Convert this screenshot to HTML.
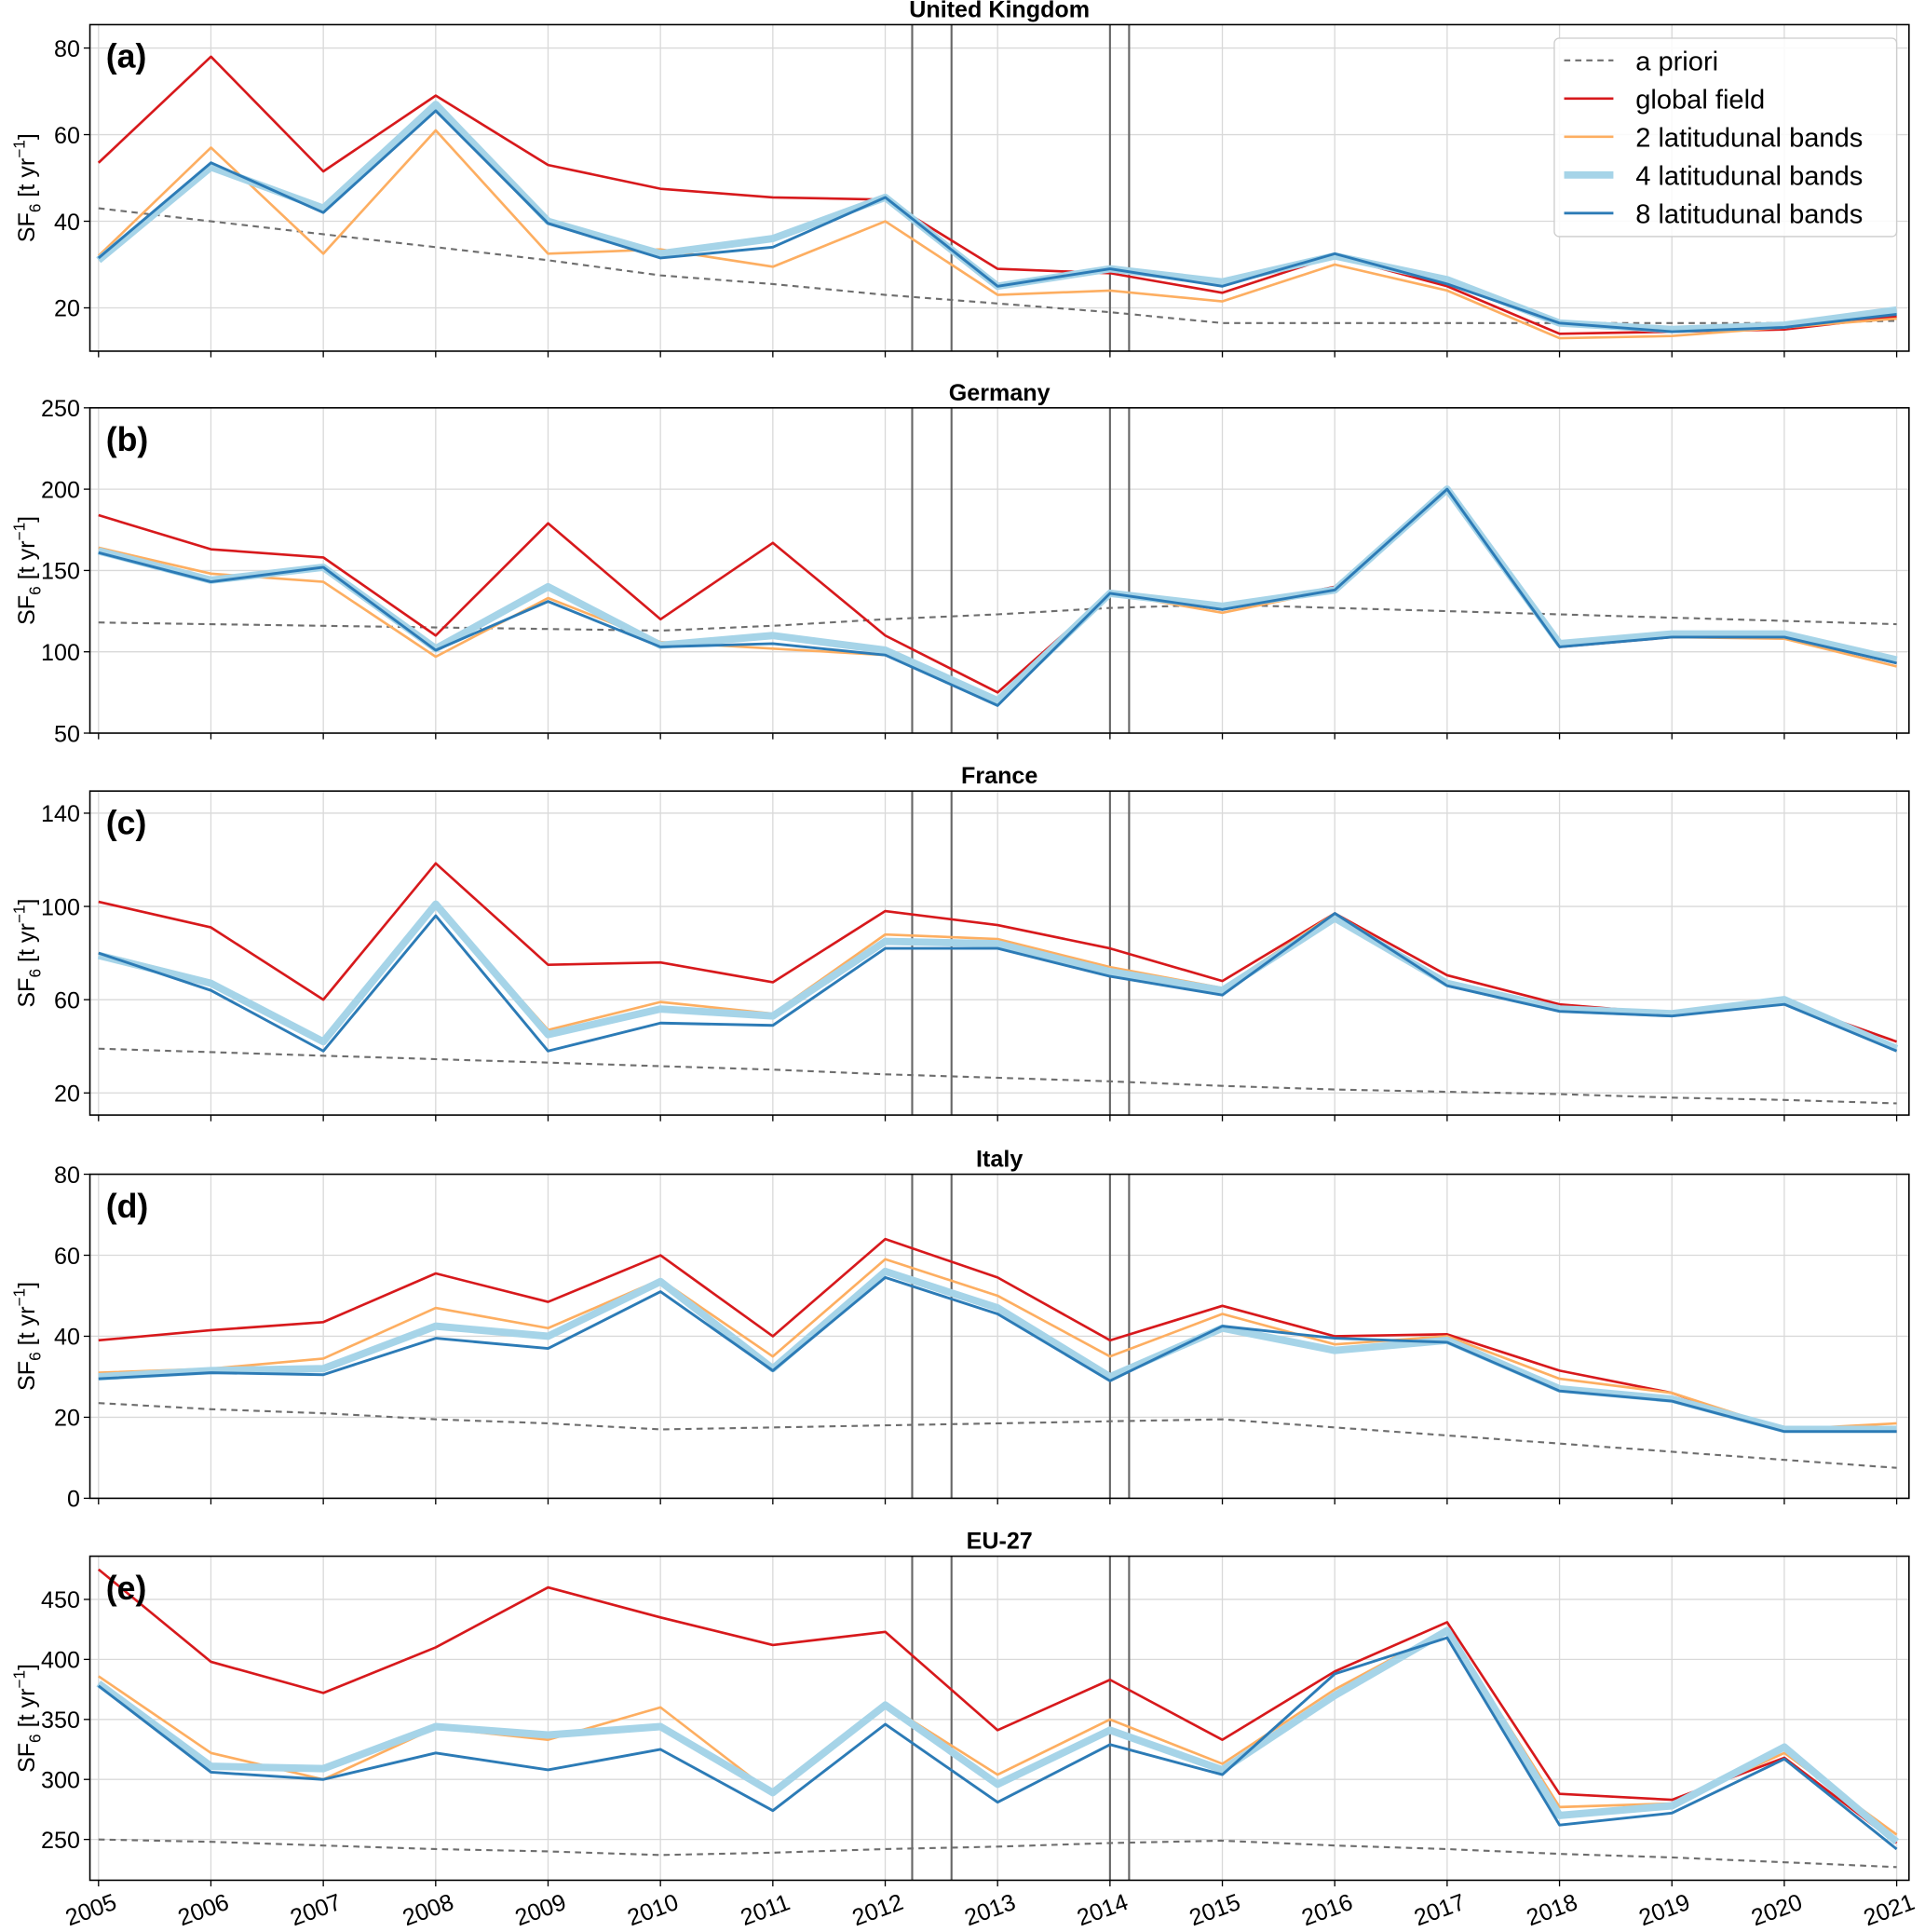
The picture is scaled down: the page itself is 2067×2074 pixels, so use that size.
<!DOCTYPE html>
<html><head><meta charset="utf-8"><style>
html,body{margin:0;padding:0;background:#fff;}
svg{display:block;font-family:"Liberation Sans","DejaVu Sans",sans-serif;}
</style></head><body>
<svg id="chart" width="2067" height="2074" viewBox="0 0 1563 1568" preserveAspectRatio="none" xmlns="http://www.w3.org/2000/svg"></svg>
<script>
const years = [2005,2006,2007,2008,2009,2010,2011,2012,2013,2014,2015,2016,2017,2018,2019,2020,2021];
const seriesNames = ["a priori","global field","2 latitudunal bands","4 latitudunal bands","8 latitudunal bands"];
const ukPrior = [43,40,37,34,31,27.5,25.5,23,21,19,16.5,16.5,16.5,16.5,16.5,16.5,17];
const ukGlobal = [53.5,78,51.5,69,53,47.5,45.5,45,29,28,23.5,32,25,14,14.5,15,18];
const uk2 = [32,57,32.5,61,32.5,33.5,29.5,40,23,24,21.5,30,24,13,13.5,15.5,17.5];
const uk4 = [31,52.5,43,67,40,32.5,36,45.5,25,29,26,32,26.5,16.5,15,16,19.5];
const uk8 = [31.5,53.5,42,65.5,39.5,31.5,34,45.5,25,29,25,32.5,25.5,16.5,14.5,15.5,18.5];
const dePrior = [118,117,116,115,114,113,116,120,123,127,129,127,125,123,121,119,117];
const deGlobal = [184,163,158,110,179,120,167,110,75,136,126,140,200,103,109,109,93];
const de2 = [164,148,143,97,133,106,102,98,70,136,124,138,200,104,109,108,91];
const de4 = [162,144,152,102,140,104,110,101,70,136,128,138,200,105,111,111,95];
const de8 = [161,143,152,101,131,103,105,98,67,136,126,138,200,103,109,109,93];
const frPrior = [39,37.5,36,34.5,33,31.5,30,28,26.5,25,23,21.5,20.5,19.5,18,17,15.5];
const frGlobal = [102,91,60,118.5,75,76,67.5,98,92,82,68,97,70.5,58,54,59,42];
const fr2 = [80,68,42,101,47,59,54,88,86,74,65,97,67,56,54,60,40];
const fr4 = [79,67,42,101,45,56,53,85,84,72,64,95,67,56,54,60,39];
const fr8 = [80,64,38,96,38,50,49,82,82,70,62,97,66,55,53,58,38];
const itPrior = [23.5,22,21,19.5,18.5,17,17.5,18,18.5,19,19.5,17.5,15.5,13.5,11.5,9.5,7.5];
const itGlobal = [39,41.5,43.5,55.5,48.5,60,40,64,54.5,39,47.5,40,40.5,31.5,26,16.5,16.5];
const it2 = [31,32,34.5,47,42,54,35,59,50,35,45.5,38,40,29.5,26,17,18.5];
const it4 = [30,31.5,32,42.5,40,53.5,32,56,47,30,42,36.5,39,27,24.5,17,17];
const it8 = [29.5,31,30.5,39.5,37,51,31.5,54.5,45.5,29,42.5,39.5,38.5,26.5,24,16.5,16.5];
const euPrior = [250,248,245,242,240,237,239,242,244,247,249,245,242,238,235,231,227];
const euGlobal = [475,398,372,410,460,435,412,423,341,383,333,390,431,288,283,318,247];
const eu2 = [386,322,300,343,333,360,288,363,304,350,313,375,425,277,280,322,254];
const eu4 = [380,311,309,344,337,344,289,362,296,341,308,370,424,270,278,327,248];
const eu8 = [378,306,300,322,308,325,274,346,281,329,304,388,418,262,272,317,242];
const ukTicks = [20,40,60,80];
const deTicks = [50,100,150,200,250];
const frTicks = [20,60,100,140];
const itTicks = [0,20,40,60,80];
const euTicks = [250,300,350,400,450];
const markerYears = [2012.24,2012.59,2014.0,2014.17];

const panels = [
 {title:"United Kingdom",letter:"(a)",top:20,bot:285,ymin:10,ymax:85.4,ticks:ukTicks,data:[ukPrior,ukGlobal,uk2,uk4,uk8],legend:true},
 {title:"Germany",letter:"(b)",top:331,bot:595,ymin:50,ymax:250,ticks:deTicks,data:[dePrior,deGlobal,de2,de4,de8]},
 {title:"France",letter:"(c)",top:642,bot:905,ymin:10.5,ymax:149.5,ticks:frTicks,data:[frPrior,frGlobal,fr2,fr4,fr8]},
 {title:"Italy",letter:"(d)",top:953,bot:1216,ymin:0,ymax:80,ticks:itTicks,data:[itPrior,itGlobal,it2,it4,it8]},
 {title:"EU-27",letter:"(e)",top:1263,bot:1526,ymin:216,ymax:486,ticks:euTicks,data:[euPrior,euGlobal,eu2,eu4,eu8],xlabels:true}
];
const L=73,R=1550;
const styles=[
 {c:"#6e6e6e",w:1.6,d:"5,4"},
 {c:"#d7191c",w:2},
 {c:"#fdae61",w:2},
 {c:"#a6d4e8",w:6},
 {c:"#2c7bb6",w:2.2}
];
const svg=document.getElementById('chart');
const NS="http://www.w3.org/2000/svg";
function mk(tag,attrs,parent){const e=document.createElementNS(NS,tag);for(const k in attrs)e.setAttribute(k,attrs[k]);(parent||svg).appendChild(e);return e;}
function xs(yr){return 80+(yr-2005)*(1540-80)/16;}

panels.forEach((p,pi)=>{
 const g=mk('g',{});
 
 
 const ys=v=>p.bot-(v-p.ymin)/(p.ymax-p.ymin)*(p.bot-p.top);
 years.forEach(yr=>{
  const gl=mk('line',{x1:xs(yr),x2:xs(yr),y1:p.top,y2:p.bot,stroke:"#d9d9d9","stroke-width":1},g);
  
  
  const tk=mk('line',{x1:xs(yr),x2:xs(yr),y1:p.bot,y2:p.bot+5,stroke:"#000","stroke-width":1},g);
  
  
 });
 p.ticks.forEach(t=>{
  const y=ys(t);
  const gl=mk('line',{x1:L,x2:R,y1:y,y2:y,stroke:"#d9d9d9","stroke-width":1},g);
  
  
  mk('line',{x1:L-5,x2:L,y1:y,y2:y,stroke:"#000","stroke-width":1},g);
  const tx=mk('text',{x:L-8,y:y+7,"text-anchor":"end","font-size":19},g);
  tx.textContent=t;
  
  
 });
 markerYears.forEach(m=>{
  const vl=mk('line',{x1:xs(m),x2:xs(m),y1:p.top,y2:p.bot,stroke:"#666","stroke-width":1.6},g);
  
  
 });
 p.data.forEach((arr,si)=>{
  const s=styles[si];
  const pts=arr.map((v,i)=>xs(years[i]).toFixed(1)+','+ys(v).toFixed(1)).join(' ');
  const a={points:pts,fill:"none",stroke:s.c,"stroke-width":s.w,"stroke-linejoin":"round"};
  if(s.d)a["stroke-dasharray"]=s.d;
  const pl=mk('polyline',a,g);
  
  
 });
 const fr=mk('rect',{x:L,y:p.top,width:R-L,height:p.bot-p.top,fill:"none",stroke:"#000","stroke-width":1.2},g);
 
 
 const ti=mk('text',{x:(L+R)/2,y:p.top-6,"text-anchor":"middle","font-size":19,"font-weight":"bold"},g);
 ti.textContent=p.title;
 
 
 const le=mk('text',{x:86,y:p.top+35,"font-size":27,"font-weight":"bold"},g);
 le.textContent=p.letter;
 
 
 const cy=(p.top+p.bot)/2;
 const yl=mk('text',{x:0,y:0,"text-anchor":"middle","font-size":19,transform:`translate(28,${cy}) rotate(-90)`},g);
 yl.innerHTML='SF<tspan font-size="13" dy="5">6</tspan><tspan dy="-5"> [t yr</tspan><tspan font-size="13" dy="-8">−1</tspan><tspan dy="8">]</tspan>';
 
 
 if(p.xlabels){
  years.forEach(yr=>{
   const x=xs(yr);
   const t=mk('text',{x:0,y:0,"text-anchor":"middle","font-size":19,transform:`translate(${x-4},${p.bot+30}) rotate(-20)`},g);
   t.textContent=yr;
   
   
  });
 }
 if(p.legend){
  const lg=mk('g',{},g);
  
  
  mk('rect',{x:1262,y:31,width:278,height:161,rx:4,fill:"#fff","fill-opacity":0.85,stroke:"#ccc","stroke-width":1},lg);
  seriesNames.forEach((n,si)=>{
   const s=styles[si];
   const y=49+si*31;
   const a={x1:1270,x2:1310,y1:y,y2:y,stroke:s.c,"stroke-width":s.w};
   if(s.d)a["stroke-dasharray"]=s.d;
   const ln=mk('line',a,lg);
   
   
   const t=mk('text',{x:1328,y:y+8,"font-size":22},lg);
   t.textContent=n;
   
   
  });
 }
});
</script>
</body></html>
